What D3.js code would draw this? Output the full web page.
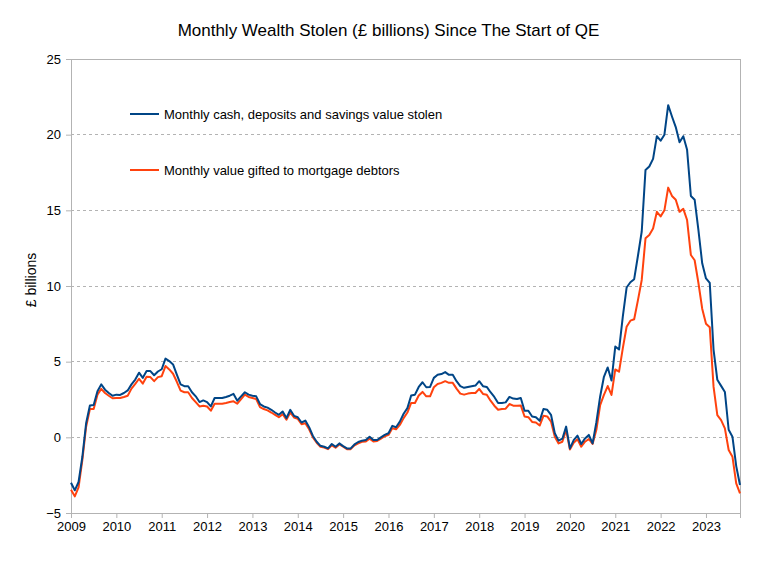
<!DOCTYPE html>
<html>
<head>
<meta charset="utf-8">
<script src="https://cdn.jsdelivr.net/npm/d3@7"></script>
<style>
  html, body { margin: 0; padding: 0; background: #fff; }
  svg { display: block; font-family: "Liberation Sans", Arial, sans-serif; }
</style>
</head>
<body>
<div id="chart"></div>
<script>
// Monthly series, Jan 2009 .. Oct 2023 (index 0 = Jan 2009)
const startYear = 2009;
const yearLabels = ["2009","2010","2011","2012","2013","2014","2015","2016","2017","2018","2019","2020","2021","2022","2023"];
const yTicks = [-5, 0, 5, 10, 15, 20, 25];
const seriesNames = ["Monthly cash, deposits and savings value stolen", "Monthly value gifted to mortgage debtors"];

const cashStolen = [
 -3.0,-3.5,-2.95,-1.3,0.93,2.1,2.13,3.05,3.5,3.15,2.93,2.75,
 2.82,2.8,2.93,3.1,3.5,3.82,4.27,3.93,4.38,4.38,4.1,4.35,
 4.5,5.2,5.04,4.82,4.15,3.5,3.38,3.38,2.98,2.71,2.33,2.44,
 2.33,2.04,2.6,2.6,2.6,2.67,2.75,2.87,2.42,2.71,2.98,2.82,
 2.75,2.71,2.2,2.04,1.96,1.82,1.64,1.49,1.71,1.27,1.82,1.42,
 1.33,0.98,1.11,0.67,0.09,-0.29,-0.56,-0.62,-0.73,-0.44,-0.62,-0.4,
 -0.58,-0.73,-0.73,-0.47,-0.31,-0.22,-0.18,0.04,-0.18,-0.18,0.0,0.16,
 0.27,0.76,0.67,1.04,1.56,1.93,2.76,2.82,3.33,3.64,3.31,3.33,
 3.93,4.13,4.18,4.31,4.13,4.13,3.71,3.38,3.27,3.33,3.38,3.42,
 3.71,3.38,3.33,2.98,2.67,2.27,2.27,2.31,2.67,2.56,2.53,2.6,
 1.76,1.76,1.38,1.33,1.09,1.87,1.82,1.49,0.27,-0.22,-0.09,0.71,
 -0.73,-0.18,0.11,-0.44,-0.07,0.16,-0.4,1.0,2.7,4.0,4.62,3.75,
 6.0,5.8,8.0,9.9,10.25,10.45,12.0,13.6,17.67,17.9,18.4,19.9,
 19.6,20.0,21.95,21.2,20.5,19.5,19.9,19.0,15.95,15.7,13.7,11.5,
 10.5,10.2,5.8,3.8,3.4,3.0,0.5,0.04,-1.9,-3.15
];

const mortgageGift = [
 -3.47,-3.9,-3.3,-1.5,0.7,1.87,1.87,2.82,3.2,2.93,2.75,2.58,
 2.6,2.6,2.67,2.75,3.22,3.53,3.87,3.55,4.0,3.98,3.71,3.98,
 4.04,4.71,4.49,4.2,3.67,3.09,2.98,2.98,2.6,2.33,2.04,2.09,
 2.04,1.76,2.22,2.22,2.22,2.27,2.33,2.38,2.22,2.53,2.82,2.67,
 2.6,2.53,2.0,1.87,1.78,1.64,1.49,1.33,1.53,1.16,1.64,1.31,
 1.22,0.87,0.93,0.53,0.0,-0.36,-0.62,-0.67,-0.78,-0.53,-0.69,-0.47,
 -0.62,-0.78,-0.78,-0.53,-0.4,-0.29,-0.27,-0.09,-0.27,-0.24,-0.09,0.07,
 0.16,0.6,0.53,0.82,1.27,1.64,2.27,2.27,2.76,3.0,2.71,2.71,
 3.31,3.53,3.6,3.71,3.6,3.6,3.22,2.89,2.82,2.89,2.93,2.93,
 3.2,2.87,2.82,2.42,2.09,1.82,1.87,1.89,2.2,2.09,2.09,2.11,
 1.38,1.33,1.02,0.98,0.78,1.42,1.38,1.04,0.04,-0.4,-0.29,0.49,
 -0.8,-0.36,-0.13,-0.62,-0.29,-0.11,-0.44,0.5,2.13,2.8,3.39,2.8,
 4.49,4.34,5.9,7.31,7.71,7.8,9.07,10.4,13.15,13.37,13.8,14.9,
 14.6,15.0,16.5,15.95,15.7,14.9,15.1,14.36,12.05,11.7,10.2,8.5,
 7.5,7.27,3.35,1.47,1.14,0.59,-0.84,-1.28,-3.04,-3.7
];

const W = 777, H = 578;
const margin = { left: 71, right: 37, top: 59, bottom: 65 };
const plotW = W - margin.left - margin.right;
const plotH = H - margin.top - margin.bottom;

const svg = d3.select("#chart").append("svg").attr("width", W).attr("height", H);

const nMonths = cashStolen.length;
const x = d3.scaleLinear().domain([0, nMonths - 1]).range([margin.left, margin.left + plotW]);
const y = d3.scaleLinear().domain([-5, 25]).range([margin.top + plotH, margin.top]);

// title
svg.append("text").attr("x", W / 2).attr("y", 36).attr("text-anchor", "middle")
  .attr("font-size", 17).attr("fill", "#000")
  .text("Monthly Wealth Stolen (£ billions) Since The Start of QE");

// gridlines
svg.append("g").selectAll("line").data(yTicks.filter(t => t > -5 && t < 25)).join("line")
  .attr("x1", margin.left).attr("x2", margin.left + plotW)
  .attr("y1", d => y(d)).attr("y2", d => y(d))
  .attr("stroke", "#b3b3b3").attr("stroke-width", 1).attr("stroke-dasharray", "3,3")
  .attr("shape-rendering", "crispEdges");

// plot border
svg.append("rect").attr("x", margin.left).attr("y", margin.top).attr("width", plotW).attr("height", plotH)
  .attr("fill", "none").attr("stroke", "#b3b3b3").attr("shape-rendering", "crispEdges");

// y axis
const yAxis = d3.axisLeft(y).tickValues(yTicks).tickSize(5).tickPadding(5).tickFormat(d3.format("d"));
const gy = svg.append("g").attr("transform", `translate(${margin.left},0)`).call(yAxis);
gy.select(".domain").attr("stroke", "#b3b3b3");
gy.selectAll(".tick line").attr("stroke", "#b3b3b3");
gy.selectAll("text").attr("font-size", 13).attr("fill", "#000").attr("font-family", "Liberation Sans, Arial, sans-serif");

// x axis
const xTickVals = yearLabels.map((_, i) => i * 12);
const xAxis = d3.axisBottom(x).tickValues(xTickVals).tickSize(5).tickPadding(4)
  .tickFormat((d, i) => yearLabels[i]);
const gx = svg.append("g").attr("transform", `translate(0,${margin.top + plotH})`).call(xAxis);
gx.select(".domain").attr("stroke", "#b3b3b3");
gx.selectAll(".tick line").attr("stroke", "#b3b3b3");
gx.selectAll("text").attr("font-size", 13).attr("fill", "#000").attr("font-family", "Liberation Sans, Arial, sans-serif");

// y label
svg.append("text").attr("transform", `translate(36,${margin.top + plotH / 2 - 6}) rotate(-90)`)
  .attr("text-anchor", "middle").attr("font-size", 14).attr("fill", "#000").text("£ billions");

const colors = ["#004586", "#ff420e"];
const line = d3.line().x((d, i) => x(i)).y(d => y(d));

svg.append("path").datum(mortgageGift).attr("d", line)
  .attr("fill", "none").attr("stroke", colors[1]).attr("stroke-width", 2).attr("stroke-linejoin", "round");
svg.append("path").datum(cashStolen).attr("d", line)
  .attr("fill", "none").attr("stroke", colors[0]).attr("stroke-width", 2).attr("stroke-linejoin", "round");

// legend
const legY = [114, 170];
seriesNames.forEach((name, k) => {
  svg.append("line").attr("x1", 130).attr("x2", 159).attr("y1", legY[k]).attr("y2", legY[k])
    .attr("stroke", colors[k]).attr("stroke-width", 2);
  svg.append("text").attr("x", 164).attr("y", legY[k] + 5).attr("font-size", 13).attr("fill", "#000").text(name);
});
</script>
</body>
</html>
